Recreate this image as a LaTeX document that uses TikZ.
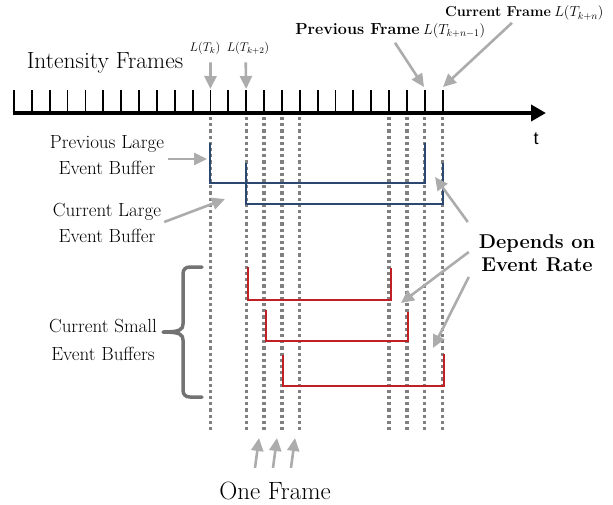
\RequirePackage{fix-cm}
\documentclass[tikz,border=0pt]{standalone}
\usepackage{fontspec}
\setsansfont{Liberation Sans}
\usetikzlibrary{arrows.meta,calc}
\definecolor{framegrey}{RGB}{128,128,128}
\definecolor{pointgrey}{RGB}{172,172,172}
\definecolor{bracegrey}{RGB}{115,115,115}
\definecolor{largeblue}{RGB}{44,72,112}
\definecolor{smallred}{RGB}{192,32,36}
\begin{document}
\begin{tikzpicture}[x=1pt,y=-1pt,
  every node/.style={inner sep=0pt},
  axisline/.style={line width=4pt,-{Triangle[length=15pt,width=16pt]}},
  tickmark/.style={line width=1.8pt},
  framemark/.style={framegrey,line width=3.2pt,dash pattern=on 3.2pt off 3pt},
  pointer/.style={pointgrey,line width=2.6pt,-{Triangle[length=13pt,width=12pt]}},
  largebuf/.style={largeblue,line width=2pt},
  smallbuf/.style={smallred,line width=2pt},
  sidelabel/.style={align=center,font=\fontsize{19}{26}\selectfont},
  boldlabel/.style={align=center,font=\bfseries\fontsize{20}{23}\selectfont},
  framemath/.style={font=\fontsize{14.5}{16}\selectfont},
]
\useasboundingbox (0,0) rectangle (613,504);

% time axis with one tick per intensity frame
\foreach \i in {0,...,24} {
  \coordinate (t\i) at ({14+17.86*\i},113);
  \coordinate (top\i) at ({14+17.86*\i},90);
}
\coordinate (axstart) at (12.5,113);
\coordinate (axend) at (546,113);
\foreach \i in {0,...,24} \draw[tickmark] (t\i) -- (top\i);
\draw[axisline] (axstart) -- (axend);
\node (taxis) [font=\sffamily\fontsize{18}{20}\selectfont] at (536,139) {t};

% frame boundaries that the buffers start and end on
\foreach \i in {11,13,14,15,16,21,22,23,24}
  \draw[framemark] ($(t\i)+(0,4)$) -- ($(t\i)+(0,317)$);

% large event buffers
\draw[largebuf] ($(t11)+(0,30)$) -- ($(t11)+(0,70)$) -- ($(t23)+(0,70)$) -- ($(t23)+(0,30)$);
\draw[largebuf] ($(t13)+(0,50)$) -- ($(t13)+(0,91)$) -- ($(t24)+(0,91)$) -- ($(t24)+(0,50)$);

% small event buffers
\draw[smallbuf] ($(t13)+(1.5,154)$) -- ($(t13)+(1.5,187)$) -- ($(t21)+(1.5,187)$) -- ($(t21)+(1.5,155)$);
\draw[smallbuf] ($(t14)+(1.5,197)$) -- ($(t14)+(1.5,228)$) -- ($(t22)+(1.5,228)$) -- ($(t22)+(1.5,199)$);
\draw[smallbuf] ($(t15)+(1.5,242)$) -- ($(t15)+(1.5,273)$) -- ($(t24)+(1.5,273)$) -- ($(t24)+(1.5,241)$);

% labels
\node (intensity) [font=\fontsize{23.4}{26}\selectfont] at (105,63) {Intensity Frames};
\node (ltk) [font=\fontsize{12.5}{14}\selectfont] at (205,48) {$L(T_k)$};
\node (ltk2) [font=\fontsize{12.5}{14}\selectfont] at (248,48) {$L(T_{k+2})$};
\node (prevframe) [font=\bfseries\fontsize{16.1}{18}\selectfont] at (357.5,29) {Previous Frame};
\node (prevmath) [framemath,anchor=base west] at ($(prevframe.base east)+(3,0)$) {$L(T_{k+n-1})$};
\node (curframe) [font=\bfseries\fontsize{14.4}{16}\selectfont] at (498,12) {Current Frame};
\node (curmath) [framemath,anchor=base west] at ($(curframe.base east)+(3,0)$) {$L(T_{k+n})$};

\node (prevlarge) [sidelabel] at (107,155) {Previous Large\\Event Buffer};
\node (curlarge) [sidelabel] at (107,223) {Current Large\\Event Buffer};
\node (cursmall) [sidelabel,font=\fontsize{19}{28}\selectfont] at (103,340) {Current Small\\Event Buffers};
\node (depends) [boldlabel] at (537,253) {Depends on\\Event Rate};
\node (oneframe) [font=\fontsize{25}{28}\selectfont] at (275,491) {One Frame};

% pointers
\draw[pointer] ($(ltk.south)+(5.5,8)$) -- ($(top11)+(0,-1)$);
\draw[pointer] ($(ltk2.south)+(-2.3,8)$) -- ($(top13)+(0,-1)$);
\coordinate (prevtip) at (424,87);
\coordinate (curtip) at (443,87);
\draw[pointer] ($(prevframe.south)+(37.5,8)$) -- (prevtip);
\draw[pointer] ($(curframe.south)+(14,5.5)$) -- (curtip);

\coordinate (prevlargetip) at (207,159);
\coordinate (curlargetip) at (225,199);
\draw[pointer] ($(prevlarge.east)+(4,4)$) -- (prevlargetip);
\draw[pointer] ($(curlarge.east)+(3,-1)$) -- (curlargetip);

\coordinate (ratetipa) at (435,177);
\coordinate (ratetipb) at (401,303);
\coordinate (ratetipc) at (433,348);
\draw[pointer] ($(depends.west)+(-11,-31)$) -- (ratetipa);
\draw[pointer] ($(depends.west)+(-10,-1)$) -- (ratetipb);
\draw[pointer] ($(depends.west)+(-10,24)$) -- (ratetipc);

\coordinate (onetipa) at (259,438);
\coordinate (onetipb) at (277,438);
\coordinate (onetipc) at (295,438);
\draw[pointer] ($(oneframe.north)+(-20,-14)$) -- (onetipa);
\draw[pointer] ($(oneframe.north)+(-2,-14)$) -- (onetipb);
\draw[pointer] ($(oneframe.north)+(16,-14)$) -- (onetipc);

% brace grouping the small buffers, tip pointing at their label
\coordinate (bracetop) at (202,267);
\coordinate (bracebot) at (202,397);
\coordinate (bracetip) at (163,332);
\draw[bracegrey,line width=3.5pt,line cap=round,line join=round]
  (bracetop) -- (190,267) .. controls (185.5,267) and (183,269.5) .. (183,274)
  -- (183,324) .. controls (183,329.5) and (180,332) .. (bracetip)
  .. controls (180,332) and (183,334.5) .. (183,340)
  -- (183,390) .. controls (183,394.5) and (185.5,397) .. (190,397) -- (bracebot);
\end{tikzpicture}
\end{document}
